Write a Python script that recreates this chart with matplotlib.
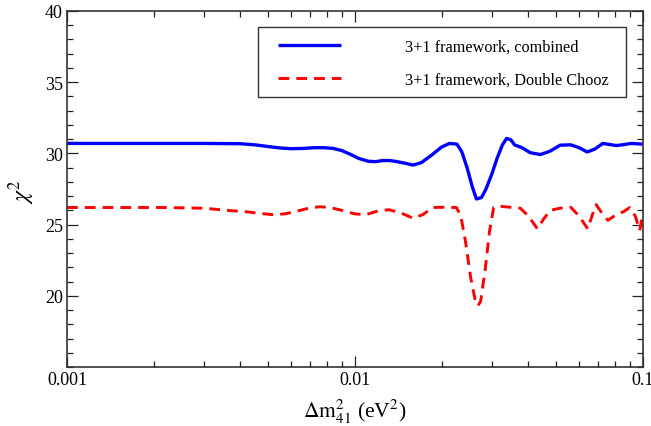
import matplotlib
matplotlib.use("Agg")
import matplotlib.pyplot as plt
from matplotlib.patches import Rectangle
from matplotlib.ticker import MultipleLocator, FixedLocator, FixedFormatter, NullFormatter, LogLocator

plt.rcParams['font.family'] = ['Liberation Serif', 'DejaVu Serif']
plt.rcParams['mathtext.fontset'] = 'stix'

# combined 3+1 fit
combined_x = [0.001, 0.002, 0.003, 0.004, 0.0045, 0.0050, 0.0055, 0.0060, 0.0066, 0.0072,
              0.0078, 0.0084, 0.0090, 0.0096, 0.0103, 0.0111, 0.0118, 0.0125, 0.0132,
              0.0140, 0.0150, 0.0159, 0.0170, 0.0185, 0.0200, 0.0213, 0.0226, 0.0235,
              0.0245, 0.0255, 0.0264, 0.0275, 0.0285, 0.0298, 0.0312, 0.0325, 0.0336,
              0.0348, 0.0358, 0.0380, 0.0406, 0.0440, 0.0475, 0.0516, 0.0561, 0.0600,
              0.0640, 0.0680, 0.0725, 0.0770, 0.0807, 0.0860, 0.0909, 0.1000]
combined_y = [30.7, 30.7, 30.7, 30.68, 30.6, 30.48, 30.38, 30.33, 30.35, 30.4,
              30.4, 30.35, 30.2, 29.95, 29.65, 29.45, 29.42, 29.5, 29.5,
              29.42, 29.3, 29.18, 29.35, 29.9, 30.45, 30.7, 30.65, 30.1,
              29.0, 27.7, 26.8, 26.9, 27.5, 28.5, 29.7, 30.6, 31.05,
              30.95, 30.6, 30.4, 30.05, 29.92, 30.15, 30.58, 30.6, 30.4,
              30.1, 30.3, 30.7, 30.62, 30.55, 30.62, 30.7, 30.65]

# Double Chooz only
dc_x = [0.001, 0.0015, 0.0022, 0.0030, 0.0036, 0.0042, 0.0047, 0.00516, 0.0057, 0.0063,
        0.0069, 0.0075, 0.00813, 0.0090, 0.0100, 0.0109, 0.0120, 0.0131, 0.0145,
        0.0159, 0.0172, 0.0186, 0.0205, 0.0225, 0.0233, 0.0242, 0.0252, 0.0262,
        0.0267, 0.0273, 0.0283, 0.0293, 0.0303, 0.0315, 0.0345, 0.0375, 0.0400,
        0.0430, 0.0452, 0.0476, 0.0515, 0.0561, 0.0600, 0.0643, 0.0670, 0.0688,
        0.0720, 0.0755, 0.0807, 0.0855, 0.0900, 0.0940, 0.0975, 0.1000]
dc_y = [26.2, 26.2, 26.2, 26.15, 26.0, 25.9, 25.78, 25.7, 25.75, 25.95,
        26.15, 26.25, 26.22, 26.0, 25.75, 25.7, 25.95, 26.05, 25.8,
        25.45, 25.7, 26.2, 26.22, 26.2, 25.6, 23.8, 21.3, 19.6,
        19.3, 19.6, 21.8, 24.5, 26.2, 26.3, 26.22, 26.15, 25.6,
        24.7, 25.4, 26.0, 26.15, 26.22, 25.6, 24.7, 25.8, 26.4,
        25.8, 25.3, 25.7, 25.9, 26.2, 25.6, 24.6, 25.85]

xticks = [0.001, 0.01, 0.1]
xtick_labels = ['0.001', '0.01', '0.1']
yticks = [20, 25, 30, 35, 40]

labels = ['3+1 framework, combined', '3+1 framework, Double Chooz']

W, H = 651, 427
AX_L, AX_R, AX_T, AX_B = 67, 643, 12, 368

fig = plt.figure(figsize=(W / 100, H / 100), dpi=100)
ax = fig.add_axes([AX_L / W, 1 - AX_B / H, (AX_R - AX_L) / W, (AX_B - AX_T) / H])

def axfrac(px, py):
    return ((px - AX_L) / (AX_R - AX_L), (AX_B - py) / (AX_B - AX_T))

ax.plot(combined_x, combined_y, color='#0000ff', lw=2.4, label=labels[0], solid_capstyle='butt')
ax.plot(dc_x, dc_y, color='#ff0000', lw=2.1, dashes=(3.7, 2.4), label=labels[1])

ax.set_xscale('log')
ax.set_xlim(0.001, 0.1)
ax.set_ylim(15, 40)
ax.xaxis.set_major_locator(FixedLocator(xticks))
ax.xaxis.set_major_formatter(FixedFormatter(xtick_labels))
ax.xaxis.set_minor_locator(LogLocator(base=10, subs=range(2, 10)))
ax.xaxis.set_minor_formatter(NullFormatter())
ax.yaxis.set_major_locator(FixedLocator(yticks))
ax.yaxis.set_minor_locator(MultipleLocator(1))

ax.tick_params(which='both', direction='in', top=True, right=True, colors='#222222',
               labelcolor='black', labelsize=13)
ax.tick_params(which='major', length=8, width=0.9, pad=3)
ax.tick_params(which='minor', length=4, width=0.9)
for s in ax.spines.values():
    s.set_color('#333333')
    s.set_linewidth(1.2)

ax.set_xlabel(r'$\Delta \mathrm{m}^2_{41}$ (eV$^2$)', fontsize=15.5, labelpad=6)
ax.set_ylabel(r'$\chi^2$', fontsize=17)
ax.yaxis.set_label_coords(*axfrac(37, 192))

# legend frame
x0, y0 = axfrac(258, 98)
x1, y1 = axfrac(626, 28)
ax.add_patch(Rectangle((x0, y0), x1 - x0, y1 - y0, transform=ax.transAxes,
                       facecolor='white', edgecolor='#333333', lw=1.0, zorder=4))

leg = ax.legend(loc='upper left', bbox_to_anchor=axfrac(278, 40),
                fontsize=11.7, frameon=False, handlelength=3.9, handletextpad=3.9,
                borderpad=0, labelspacing=1.05, borderaxespad=0)
leg.set_zorder(5)

fig.savefig('out.png', dpi=100)
